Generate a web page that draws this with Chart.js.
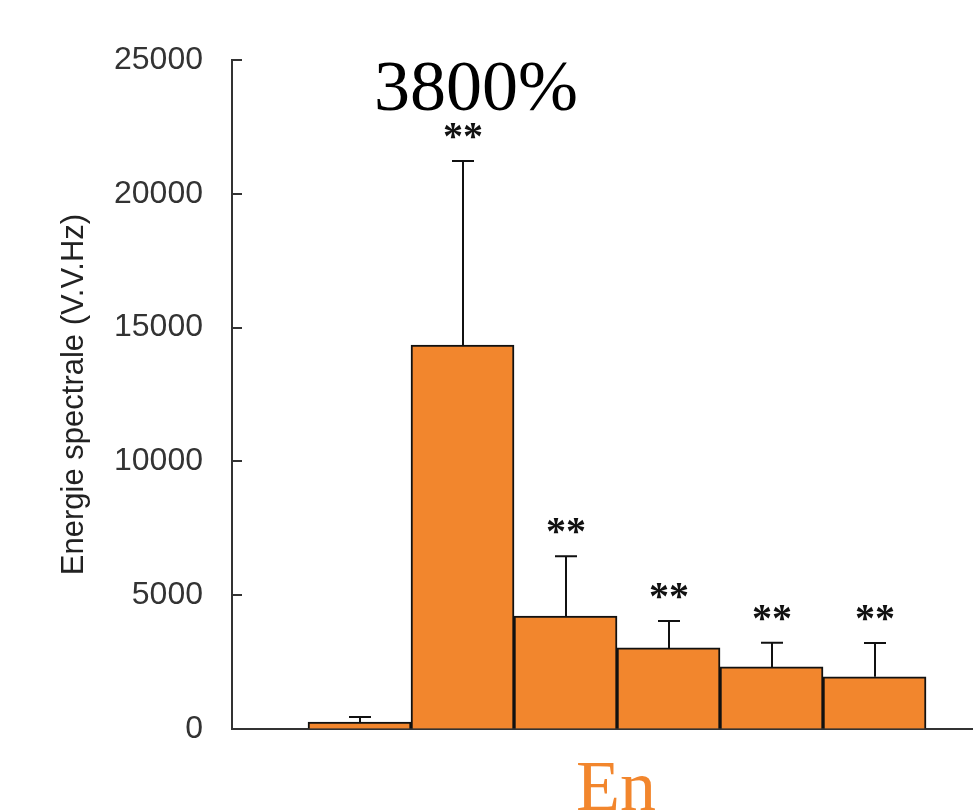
<!DOCTYPE html>
<html lang="en">
<head>
  <meta charset="utf-8">
  <title>Energie spectrale - En</title>
  <style>
    * { margin: 0; padding: 0; }
    body { background: #fff; }
    #chart { display: block; }
  </style>
</head>
<body>
  <canvas id="chart" width="973" height="812"></canvas>

  <script src="https://cdn.jsdelivr.net/npm/chart.js@4.4.1/dist/chart.umd.min.js"></script>
  <script>
    // Data
    const positions = [1, 2, 3, 4, 5, 6];
    const means = [260, 14350, 4220, 3030, 2320, 1950];
    const errors = [190, 6880, 2240, 1010, 900, 1260];   // upper error only
    const stars = ['', '**', '**', '**', '**', '**'];
    const yTicks = [0, 5000, 10000, 15000, 20000, 25000];

    const orange = '#F2862D';
    const axisColor = '#333';

    // error bars, inward ticks, stars and the two big labels
    const extras = {
      id: 'extras',
      afterDatasetsDraw(chart) {
        const { ctx, chartArea } = chart;
        const x = chart.scales.x;
        const y = chart.scales.y;
        ctx.save();
        ctx.strokeStyle = axisColor;
        ctx.lineWidth = 2;

        // tick marks pointing into the plot
        yTicks.forEach(v => {
          const py = Math.round(y.getPixelForValue(v));
          ctx.beginPath();
          ctx.moveTo(chartArea.left, py);
          ctx.lineTo(chartArea.left + 10, py);
          ctx.stroke();
        });

        ctx.strokeStyle = '#111';
        positions.forEach((p, i) => {
          const px = Math.round(x.getPixelForValue(p));
          const y0 = y.getPixelForValue(means[i]);
          const y1 = y.getPixelForValue(means[i] + errors[i]);
          ctx.beginPath();
          ctx.moveTo(px, y0);
          ctx.lineTo(px, y1);
          ctx.moveTo(px - 11, y1);
          ctx.lineTo(px + 11, y1);
          ctx.stroke();

          if (stars[i]) {
            ctx.fillStyle = '#111';
            ctx.font = 'bold 40px "Liberation Serif", serif';
            ctx.textAlign = 'center';
            ctx.textBaseline = 'middle';
            ctx.fillText(stars[i], px, y1 - 22);
          }
        });

        ctx.textAlign = 'center';
        ctx.textBaseline = 'alphabetic';
        ctx.font = '72px "Liberation Serif", serif';
        ctx.fillStyle = '#000';
        ctx.fillText('3800%', 476, 110);
        ctx.fillStyle = orange;
        ctx.fillText('En', 616, 810);
        ctx.restore();
      }
    };

    new Chart(document.getElementById('chart'), {
      type: 'bar',
      data: {
        datasets: [{
          data: positions.map((p, i) => ({ x: p, y: means[i] })),
          backgroundColor: orange,
          borderColor: '#111',
          borderWidth: 2,
          barPercentage: 1,
          categoryPercentage: 1
        }]
      },
      options: {
        responsive: false,
        animation: false,
        layout: { padding: { top: 60, left: 0, right: 0, bottom: 0 } },
        plugins: {
          legend: { display: false },
          tooltip: { enabled: false }
        },
        scales: {
          x: {
            type: 'linear',
            offset: false,
            min: -0.238,
            max: 6.956,
            // only the bar positions as (hidden) ticks, so bars fill each slot
            afterBuildTicks(scale) { scale.ticks = positions.map(v => ({ value: v })); },
            ticks: { display: false },
            grid: { display: false },
            border: { display: true, color: axisColor, width: 2 },
            afterFit(scale) { scale.height = 83; }
          },
          y: {
            min: 0,
            max: 25000,
            ticks: {
              stepSize: 5000,
              padding: 29,
              color: axisColor,
              font: { family: '"Liberation Sans", Arial, sans-serif', size: 32 },
              callback: v => String(v)
            },
            grid: { drawOnChartArea: false, drawTicks: false },
            border: { display: true, color: axisColor, width: 2 },
            title: {
              display: true,
              text: 'Energie spectrale (V.V.Hz)',
              color: '#222',
              padding: { top: 56, bottom: 0 },
              font: { family: '"Liberation Sans", Arial, sans-serif', size: 31 }
            },
            afterFit(scale) { scale.width = 232; }
          }
        }
      },
      plugins: [extras]
    });
  </script>
</body>
</html>
